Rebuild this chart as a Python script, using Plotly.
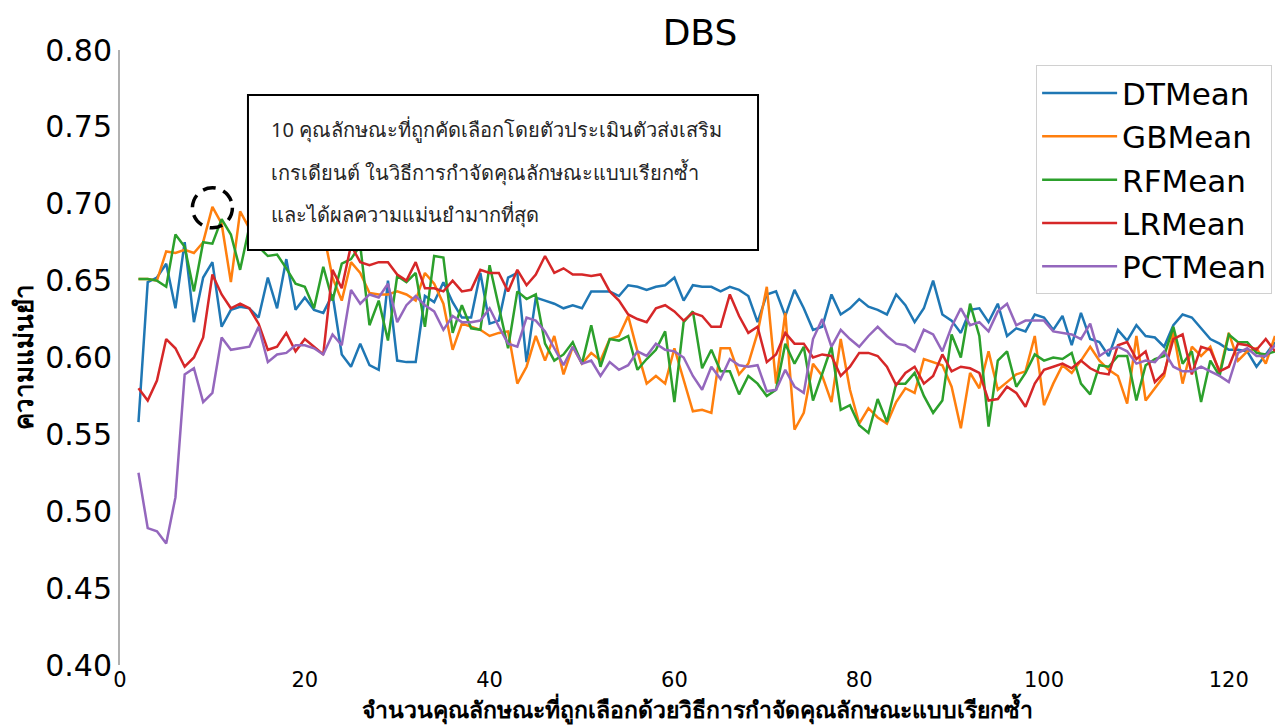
import plotly.graph_objects as go

# Number of features kept by recursive feature elimination
n_features = list(range(2, 126))

dt_mean = [
    0.558, 0.649, 0.652, 0.661, 0.632, 0.675, 0.623, 0.652, 0.662, 0.620,
    0.631, 0.633, 0.632, 0.626, 0.652, 0.632, 0.664, 0.631, 0.639, 0.631,
    0.629, 0.641, 0.602, 0.594, 0.609, 0.595, 0.592, 0.650, 0.598, 0.597,
    0.597, 0.640, 0.636, 0.649, 0.636, 0.626, 0.626, 0.655, 0.622, 0.624,
    0.652, 0.655, 0.597, 0.639, 0.637, 0.635, 0.632, 0.634, 0.632, 0.643,
    0.643, 0.643, 0.640, 0.647, 0.646, 0.644, 0.646, 0.647, 0.652, 0.637,
    0.647, 0.646, 0.646, 0.643, 0.646, 0.644, 0.640, 0.623, 0.641, 0.643,
    0.627, 0.644, 0.632, 0.618, 0.620, 0.641, 0.628, 0.632, 0.638, 0.633,
    0.631, 0.628, 0.641, 0.634, 0.623, 0.632, 0.650, 0.628, 0.624, 0.616,
    0.631, 0.632, 0.623, 0.635, 0.614, 0.619, 0.617, 0.628, 0.626, 0.618,
    0.627, 0.608, 0.629, 0.612, 0.610, 0.601, 0.618, 0.611, 0.621, 0.614,
    0.613, 0.607, 0.621, 0.628, 0.626, 0.619, 0.612, 0.609, 0.605, 0.605,
    0.604, 0.594, 0.602, 0.610,
]

gb_mean = [
    0.651, 0.651, 0.650, 0.669, 0.668, 0.670, 0.668, 0.675, 0.698, 0.687,
    0.649, 0.695, 0.684, 0.692, 0.694, 0.678, 0.675, 0.678, 0.681, 0.686,
    0.682, 0.652, 0.637, 0.662, 0.655, 0.642, 0.641, 0.641, 0.643, 0.641,
    0.637, 0.655, 0.648, 0.635, 0.605, 0.622, 0.620, 0.618, 0.614, 0.616,
    0.617, 0.583, 0.594, 0.614, 0.598, 0.614, 0.589, 0.607, 0.596, 0.603,
    0.598, 0.612, 0.614, 0.627, 0.604, 0.583, 0.588, 0.583, 0.606, 0.585,
    0.565, 0.566, 0.564, 0.606, 0.606, 0.589, 0.596, 0.616, 0.646, 0.583,
    0.629, 0.553, 0.564, 0.596, 0.588, 0.571, 0.612, 0.579, 0.557, 0.567,
    0.561, 0.557, 0.571, 0.580, 0.577, 0.599, 0.597, 0.595, 0.581, 0.554,
    0.590, 0.580, 0.604, 0.579, 0.584, 0.589, 0.591, 0.614, 0.569, 0.583,
    0.595, 0.590, 0.598, 0.607, 0.598, 0.592, 0.588, 0.570, 0.614, 0.572,
    0.580, 0.588, 0.617, 0.583, 0.607, 0.601, 0.607, 0.590, 0.616, 0.598,
    0.604, 0.606, 0.596, 0.614,
]

rf_mean = [
    0.651, 0.651, 0.650, 0.646, 0.680, 0.672, 0.643, 0.675, 0.674, 0.690,
    0.680, 0.657, 0.685, 0.672, 0.666, 0.667, 0.658, 0.648, 0.646, 0.632,
    0.659, 0.637, 0.661, 0.664, 0.673, 0.621, 0.637, 0.611, 0.653, 0.649,
    0.655, 0.620, 0.666, 0.665, 0.616, 0.634, 0.619, 0.618, 0.660, 0.633,
    0.606, 0.643, 0.638, 0.641, 0.609, 0.598, 0.602, 0.610, 0.596, 0.621,
    0.594, 0.612, 0.611, 0.614, 0.592, 0.599, 0.605, 0.617, 0.571, 0.623,
    0.630, 0.593, 0.605, 0.591, 0.591, 0.576, 0.588, 0.583, 0.575, 0.579,
    0.609, 0.596, 0.607, 0.572, 0.590, 0.607, 0.566, 0.569, 0.556, 0.551,
    0.573, 0.558, 0.583, 0.583, 0.590, 0.575, 0.564, 0.572, 0.615, 0.600,
    0.635, 0.614, 0.555, 0.598, 0.604, 0.581, 0.590, 0.602, 0.598, 0.600,
    0.599, 0.603, 0.583, 0.576, 0.595, 0.594, 0.601, 0.601, 0.572, 0.595,
    0.599, 0.601, 0.620, 0.596, 0.604, 0.571, 0.598, 0.588, 0.615, 0.610,
    0.610, 0.603, 0.602, 0.604,
]

lr_mean = [
    0.580, 0.572, 0.585, 0.612, 0.606, 0.594, 0.600, 0.613, 0.654, 0.641,
    0.632, 0.635, 0.632, 0.622, 0.605, 0.607, 0.616, 0.604, 0.612, 0.607,
    0.602, 0.657, 0.645, 0.673, 0.662, 0.660, 0.662, 0.662, 0.654, 0.650,
    0.662, 0.645, 0.645, 0.643, 0.650, 0.643, 0.644, 0.657, 0.655, 0.655,
    0.643, 0.657, 0.647, 0.654, 0.666, 0.655, 0.658, 0.654, 0.654, 0.653,
    0.654, 0.643, 0.637, 0.628, 0.625, 0.623, 0.632, 0.634, 0.630, 0.624,
    0.629, 0.627, 0.620, 0.620, 0.641, 0.627, 0.616, 0.620, 0.597, 0.602,
    0.616, 0.609, 0.609, 0.600, 0.602, 0.601, 0.588, 0.594, 0.603, 0.603,
    0.601, 0.594, 0.582, 0.590, 0.594, 0.583, 0.588, 0.602, 0.591, 0.594,
    0.593, 0.590, 0.572, 0.573, 0.581, 0.577, 0.568, 0.583, 0.592, 0.594,
    0.596, 0.593, 0.598, 0.593, 0.590, 0.589, 0.608, 0.610, 0.599, 0.604,
    0.584, 0.590, 0.612, 0.615, 0.589, 0.607, 0.605, 0.591, 0.594, 0.609,
    0.608, 0.605, 0.612, 0.604,
]

pct_mean = [
    0.525, 0.489, 0.487, 0.479, 0.509, 0.589, 0.593, 0.571, 0.577, 0.613,
    0.605, 0.606, 0.607, 0.620, 0.597, 0.602, 0.603, 0.608, 0.608, 0.606,
    0.602, 0.615, 0.608, 0.644, 0.635, 0.641, 0.639, 0.648, 0.623, 0.634,
    0.640, 0.634, 0.630, 0.618, 0.627, 0.623, 0.623, 0.624, 0.632, 0.620,
    0.609, 0.607, 0.626, 0.624, 0.617, 0.606, 0.595, 0.607, 0.596, 0.598,
    0.588, 0.597, 0.592, 0.595, 0.604, 0.601, 0.609, 0.605, 0.604, 0.600,
    0.588, 0.579, 0.594, 0.586, 0.599, 0.595, 0.594, 0.595, 0.578, 0.579,
    0.592, 0.581, 0.577, 0.612, 0.625, 0.607, 0.618, 0.612, 0.607, 0.614,
    0.620, 0.614, 0.609, 0.608, 0.604, 0.618, 0.615, 0.604, 0.620, 0.632,
    0.621, 0.623, 0.617, 0.630, 0.635, 0.621, 0.624, 0.624, 0.624, 0.617,
    0.616, 0.615, 0.612, 0.622, 0.601, 0.605, 0.607, 0.604, 0.596, 0.598,
    0.597, 0.604, 0.594, 0.591, 0.591, 0.594, 0.591, 0.588, 0.584, 0.603,
    0.606, 0.601, 0.601, 0.608,
]

series = [
    ("DTMean", dt_mean, "#1f77b4"),
    ("GBMean", gb_mean, "#ff7f0e"),
    ("RFMean", rf_mean, "#2ca02c"),
    ("LRMean", lr_mean, "#d62728"),
    ("PCTMean", pct_mean, "#9467bd"),
]

x_ticks = [0, 20, 40, 60, 80, 100, 120]
y_ticks = [0.40, 0.45, 0.50, 0.55, 0.60, 0.65, 0.70, 0.75, 0.80]

x_title = "จำนวนคุณลักษณะที่ถูกเลือกด้วยวิธีการกำจัดคุณลักษณะแบบเรียกซ้ำ"
y_title = "ความแม่นยำ"
note_lines = [
    "10 คุณลักษณะที่ถูกคัดเลือกโดยตัวประเมินตัวส่งเสริม",
    "เกรเดียนต์ ในวิธีการกำจัดคุณลักษณะแบบเรียกซ้ำ",
    "และได้ผลความแม่นยำมากที่สุด",
]
best_k = 10
best_acc = gb_mean[n_features.index(best_k)]

fig = go.Figure()
for name, values, color in series:
    fig.add_trace(go.Scatter(
        x=n_features, y=values, mode="lines", name=name,
        line=dict(color=color, width=2.5),
    ))

# Dashed ring around the best gradient-boosting point
fig.add_shape(
    type="circle", xref="x", yref="y",
    xsizemode="pixel", ysizemode="pixel",
    xanchor=best_k, yanchor=best_acc,
    x0=-20, x1=20, y0=-21, y1=19,
    line=dict(color="black", width=3.5, dash="13px,8px"),
)

# Note box
fig.add_shape(
    type="rect", xref="x", yref="y",
    x0=13.85, x1=69.05, y0=0.6699, y1=0.7707,
    line=dict(color="black", width=2), fillcolor="white", layer="above",
)
for i, line in enumerate(note_lines):
    fig.add_annotation(
        x=16.1, y=0.748 - i * 0.0275, xref="x", yref="y",
        text=line, showarrow=False, xanchor="left", yanchor="middle",
        font=dict(size=20, color="#262626", family="Noto Sans, DejaVu Sans"),
    )

# X-axis title sits on the bottom edge of the figure, under the tick labels
fig.add_annotation(
    x=0.5, y=-62 / 615, xref="paper", yref="paper",
    text=f"<b>{x_title}</b>", showarrow=False,
    xanchor="center", yanchor="bottom",
    font=dict(size=23, color="black"),
)

fig.update_layout(
    width=1275, height=727,
    margin=dict(l=120, r=0, t=50, b=62),
    paper_bgcolor="white", plot_bgcolor="white",
    title=dict(
        text="DBS", x=0.549, xanchor="center", y=0.955, yanchor="middle",
        font=dict(family="DejaVu Sans", size=36, color="black"),
    ),
    legend=dict(
        x=0.9975, xanchor="right", y=0.975, yanchor="top",
        bgcolor="white", bordercolor="#d0d0d0", borderwidth=1,
        font=dict(family="DejaVu Sans", size=31, color="black"),
        itemwidth=75, tracegroupgap=0,
    ),
    xaxis=dict(
        range=[0, 125], tickvals=x_ticks, showgrid=False, zeroline=False,
        showline=False, ticks="",
        tickfont=dict(family="DejaVu Sans", size=21, color="black"),
    ),
    yaxis=dict(
        range=[0.40, 0.80], tickvals=y_ticks, ticktext=[f"{v:.2f}" for v in y_ticks],
        showgrid=False, zeroline=False, showline=True,
        linecolor="#b0b0b0", linewidth=2, ticks="",
        tickfont=dict(family="DejaVu Sans", size=30, color="black"),
        title=dict(
            text=f"<b>{y_title}</b>",
            font=dict(size=26, color="black"), standoff=4,
        ),
    ),
)

fig.write_html("out.html")
